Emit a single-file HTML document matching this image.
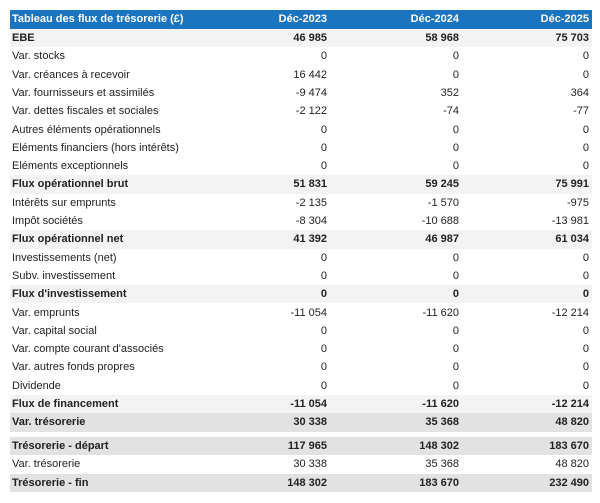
<!DOCTYPE html>
<html><head><meta charset="utf-8">
<style>
html,body{margin:0;padding:0;background:#fff;width:600px;height:503px;overflow:hidden;}
body{position:relative;font-family:"Liberation Sans",Arial,sans-serif;font-size:11px;color:#222;}
.r{position:absolute;left:10px;width:582px;height:18.3px;line-height:18.3px;}
.r span{position:absolute;top:0;white-space:nowrap;}
.l{left:2px;}
.c1{right:265px;}
.c2{right:133px;}
.c3{right:3px;}
.b{font-weight:bold;}
.lt{background:#f3f3f3;}
.dk{background:#e2e2e2;}
.h{background:#1a74c0;color:#fff;font-weight:bold;height:19px;line-height:19px;top:10px;}
</style></head><body>
<div class="r h"><span class="l">Tableau des flux de trésorerie (£)</span><span class="c1">Déc-2023</span><span class="c2">Déc-2024</span><span class="c3">Déc-2025</span></div>

<div class="r b lt" style="top:29px"><span class="l">EBE</span><span class="c1">46 985</span><span class="c2">58 968</span><span class="c3">75 703</span></div>
<div class="r" style="top:47.3px"><span class="l">Var. stocks</span><span class="c1">0</span><span class="c2">0</span><span class="c3">0</span></div>
<div class="r" style="top:65.6px"><span class="l">Var. créances à recevoir</span><span class="c1">16 442</span><span class="c2">0</span><span class="c3">0</span></div>
<div class="r" style="top:83.9px"><span class="l">Var. fournisseurs et assimilés</span><span class="c1">-9 474</span><span class="c2">352</span><span class="c3">364</span></div>
<div class="r" style="top:102.2px"><span class="l">Var. dettes fiscales et sociales</span><span class="c1">-2 122</span><span class="c2">-74</span><span class="c3">-77</span></div>
<div class="r" style="top:120.5px"><span class="l">Autres éléments opérationnels</span><span class="c1">0</span><span class="c2">0</span><span class="c3">0</span></div>
<div class="r" style="top:138.8px"><span class="l">Eléments financiers (hors intérêts)</span><span class="c1">0</span><span class="c2">0</span><span class="c3">0</span></div>
<div class="r" style="top:157.1px"><span class="l">Eléments exceptionnels</span><span class="c1">0</span><span class="c2">0</span><span class="c3">0</span></div>
<div class="r b lt" style="top:175.4px"><span class="l">Flux opérationnel brut</span><span class="c1">51 831</span><span class="c2">59 245</span><span class="c3">75 991</span></div>
<div class="r" style="top:193.7px"><span class="l">Intérêts sur emprunts</span><span class="c1">-2 135</span><span class="c2">-1 570</span><span class="c3">-975</span></div>
<div class="r" style="top:212px"><span class="l">Impôt sociétés</span><span class="c1">-8 304</span><span class="c2">-10 688</span><span class="c3">-13 981</span></div>
<div class="r b lt" style="top:230.3px"><span class="l">Flux opérationnel net</span><span class="c1">41 392</span><span class="c2">46 987</span><span class="c3">61 034</span></div>
<div class="r" style="top:248.6px"><span class="l">Investissements (net)</span><span class="c1">0</span><span class="c2">0</span><span class="c3">0</span></div>
<div class="r" style="top:266.9px"><span class="l">Subv. investissement</span><span class="c1">0</span><span class="c2">0</span><span class="c3">0</span></div>
<div class="r b lt" style="top:285.2px"><span class="l">Flux d'investissement</span><span class="c1">0</span><span class="c2">0</span><span class="c3">0</span></div>
<div class="r" style="top:303.5px"><span class="l">Var. emprunts</span><span class="c1">-11 054</span><span class="c2">-11 620</span><span class="c3">-12 214</span></div>
<div class="r" style="top:321.8px"><span class="l">Var. capital social</span><span class="c1">0</span><span class="c2">0</span><span class="c3">0</span></div>
<div class="r" style="top:340.1px"><span class="l">Var. compte courant d'associés</span><span class="c1">0</span><span class="c2">0</span><span class="c3">0</span></div>
<div class="r" style="top:358.4px"><span class="l">Var. autres fonds propres</span><span class="c1">0</span><span class="c2">0</span><span class="c3">0</span></div>
<div class="r" style="top:376.7px"><span class="l">Dividende</span><span class="c1">0</span><span class="c2">0</span><span class="c3">0</span></div>
<div class="r b lt" style="top:395px"><span class="l">Flux de financement</span><span class="c1">-11 054</span><span class="c2">-11 620</span><span class="c3">-12 214</span></div>
<div class="r b dk" style="top:413.3px"><span class="l">Var. trésorerie</span><span class="c1">30 338</span><span class="c2">35 368</span><span class="c3">48 820</span></div>

<div class="r b dk" style="top:437px"><span class="l">Trésorerie - départ</span><span class="c1">117 965</span><span class="c2">148 302</span><span class="c3">183 670</span></div>
<div class="r" style="top:455.3px"><span class="l">Var. trésorerie</span><span class="c1">30 338</span><span class="c2">35 368</span><span class="c3">48 820</span></div>
<div class="r b dk" style="top:473.6px"><span class="l">Trésorerie - fin</span><span class="c1">148 302</span><span class="c2">183 670</span><span class="c3">232 490</span></div>
</body></html>
